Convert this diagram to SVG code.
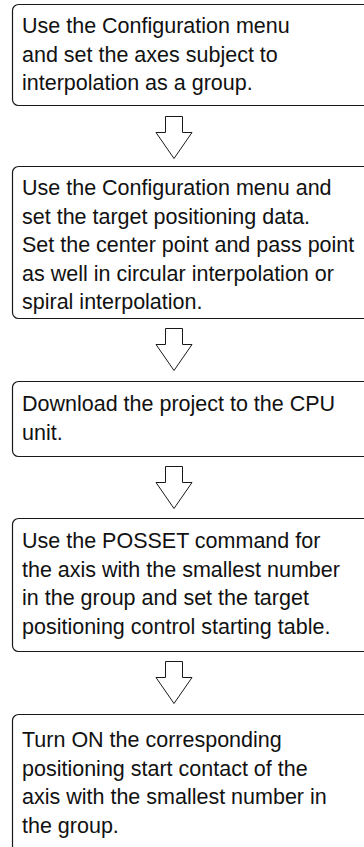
<svg xmlns="http://www.w3.org/2000/svg" width="364" height="847" viewBox="0 0 364 847">
<style>
.box{fill:#fff;stroke:#1a1a1a;stroke-width:1.2}
.arr{fill:#fff;stroke:#1a1a1a;stroke-width:1}
text{font-family:"Liberation Sans",Arial,sans-serif;font-size:21.5px;fill:#111}
</style>
<defs>
<path id="downArrow" d="M-8.5,0 H8.5 V16 H18 L0,42 L-18,16 H-8.5 Z"/>
</defs>
<rect width="364" height="847" fill="#fff"/>
<g id="connectors">
<use href="#downArrow" class="arr" x="174" y="116.5"/>
<use href="#downArrow" class="arr" x="174" y="328.5"/>
<use href="#downArrow" class="arr" x="174" y="466.5"/>
<use href="#downArrow" class="arr" x="174" y="661.5"/>
</g>
<g id="step1">
<rect class="box" x="12.5" y="4.5" width="370" height="101" rx="6"/>
<text x="22" y="33">Use the Configuration menu</text>
<text x="22" y="61.5">and set the axes subject to</text>
<text x="22" y="90">interpolation as a group.</text>
</g>
<g id="step2">
<rect class="box" x="12.5" y="166.5" width="370" height="152" rx="6"/>
<text x="22" y="195">Use the Configuration menu and</text>
<text x="22" y="223.5">set the target positioning data.</text>
<text x="22" y="252">Set the center point and pass point</text>
<text x="22" y="280.5">as well in circular interpolation or</text>
<text x="22" y="309">spiral interpolation.</text>
</g>
<g id="step3">
<rect class="box" x="12.5" y="381.5" width="370" height="75" rx="6"/>
<text x="22" y="411">Download the project to the CPU</text>
<text x="22" y="439.5">unit.</text>
</g>
<g id="step4">
<rect class="box" x="12.5" y="518.5" width="370" height="133" rx="6"/>
<text x="22" y="548">Use the POSSET command for</text>
<text x="22" y="576.5">the axis with the smallest number</text>
<text x="22" y="605">in the group and set the target</text>
<text x="22" y="633.5">positioning control starting table.</text>
</g>
<g id="step5">
<rect class="box" x="12.5" y="714.5" width="370" height="150" rx="6"/>
<text x="22" y="747">Turn ON the corresponding</text>
<text x="22" y="775.5">positioning start contact of the</text>
<text x="22" y="804">axis with the smallest number in</text>
<text x="22" y="832.5">the group.</text>
</g>
</svg>
